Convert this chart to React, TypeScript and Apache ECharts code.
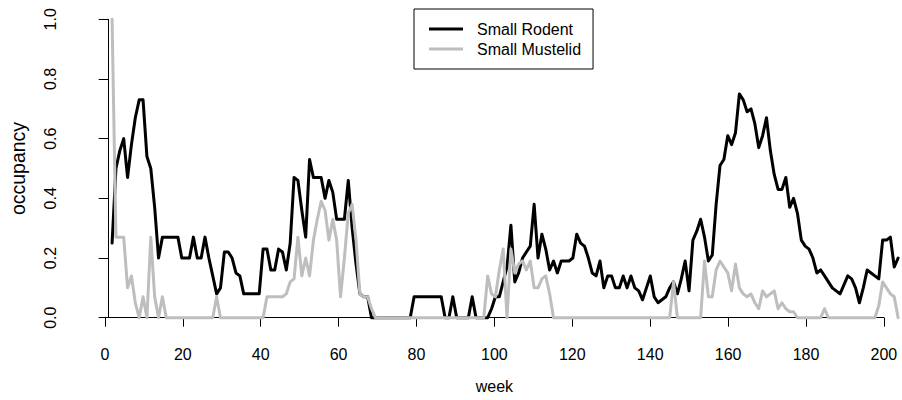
import React, { useEffect, useRef } from "react";
import * as echarts from "echarts";

// Survey week index (1..204)
const weeks: number[] = Array.from({ length: 204 }, (_, i) => i + 1);

// Weekly occupancy of small rodents
const rodent: number[] = [
  0.25, 0.50, 0.56, 0.60, 0.47, 0.58, 0.67, 0.73, 0.73, 0.54,
  0.50, 0.37, 0.20, 0.27, 0.27, 0.27, 0.27, 0.27, 0.20, 0.20,
  0.20, 0.27, 0.20, 0.20, 0.27, 0.20, 0.14, 0.08, 0.10, 0.22,
  0.22, 0.20, 0.15, 0.14, 0.08, 0.08, 0.08, 0.08, 0.08, 0.23,
  0.23, 0.16, 0.16, 0.23, 0.22, 0.16, 0.25, 0.47, 0.46, 0.36,
  0.27, 0.53, 0.47, 0.47, 0.47, 0.40, 0.46, 0.42, 0.33, 0.33,
  0.33, 0.46, 0.30, 0.18, 0.08, 0.07, 0.07, 0.00, 0.00, 0.00,
  0.00, 0.00, 0.00, 0.00, 0.00, 0.00, 0.00, 0.00, 0.07, 0.07,
  0.07, 0.07, 0.07, 0.07, 0.07, 0.07, 0.00, 0.00, 0.07, 0.00,
  0.00, 0.00, 0.00, 0.07, 0.00, 0.00, 0.00, 0.00, 0.03, 0.07,
  0.07, 0.12, 0.17, 0.31, 0.12, 0.15, 0.20, 0.22, 0.24, 0.38,
  0.20, 0.28, 0.23, 0.16, 0.19, 0.15, 0.19, 0.19, 0.19, 0.20,
  0.28, 0.25, 0.24, 0.20, 0.15, 0.14, 0.19, 0.10, 0.14, 0.14,
  0.10, 0.10, 0.14, 0.10, 0.14, 0.10, 0.09, 0.06, 0.10, 0.14,
  0.07, 0.05, 0.06, 0.07, 0.10, 0.12, 0.08, 0.13, 0.19, 0.09,
  0.26, 0.29, 0.33, 0.27, 0.19, 0.21, 0.38, 0.51, 0.53, 0.61,
  0.58, 0.62, 0.75, 0.73, 0.69, 0.70, 0.65, 0.57, 0.61, 0.67,
  0.56, 0.48, 0.43, 0.43, 0.47, 0.37, 0.40, 0.35, 0.26, 0.24,
  0.23, 0.20, 0.15, 0.16, 0.14, 0.12, 0.10, 0.09, 0.08, 0.11,
  0.14, 0.13, 0.10, 0.05, 0.10, 0.16, 0.15, 0.14, 0.13, 0.26,
  0.26, 0.27, 0.17, 0.20,
];

// Weekly occupancy of small mustelids
const mustelid: number[] = [
  1.00, 0.27, 0.27, 0.27, 0.10, 0.14, 0.05, 0.00, 0.07, 0.00,
  0.27, 0.07, 0.00, 0.07, 0.00, 0.00, 0.00, 0.00, 0.00, 0.00,
  0.00, 0.00, 0.00, 0.00, 0.00, 0.00, 0.00, 0.07, 0.00, 0.00,
  0.00, 0.00, 0.00, 0.00, 0.00, 0.00, 0.00, 0.00, 0.00, 0.00,
  0.07, 0.07, 0.07, 0.07, 0.07, 0.08, 0.12, 0.13, 0.27, 0.14,
  0.20, 0.14, 0.26, 0.33, 0.39, 0.36, 0.26, 0.33, 0.26, 0.07,
  0.20, 0.35, 0.38, 0.26, 0.08, 0.07, 0.07, 0.03, 0.00, 0.00,
  0.00, 0.00, 0.00, 0.00, 0.00, 0.00, 0.00, 0.00, 0.00, 0.00,
  0.00, 0.00, 0.00, 0.00, 0.00, 0.00, 0.00, 0.00, 0.00, 0.00,
  0.00, 0.00, 0.00, 0.00, 0.00, 0.00, 0.00, 0.14, 0.08, 0.07,
  0.16, 0.23, 0.00, 0.23, 0.15, 0.18, 0.19, 0.16, 0.19, 0.10,
  0.10, 0.13, 0.14, 0.08, 0.00, 0.00, 0.00, 0.00, 0.00, 0.00,
  0.00, 0.00, 0.00, 0.00, 0.00, 0.00, 0.00, 0.00, 0.00, 0.00,
  0.00, 0.00, 0.00, 0.00, 0.00, 0.00, 0.00, 0.00, 0.00, 0.00,
  0.00, 0.00, 0.00, 0.00, 0.00, 0.12, 0.00, 0.00, 0.00, 0.00,
  0.00, 0.00, 0.00, 0.19, 0.07, 0.07, 0.16, 0.19, 0.17, 0.15,
  0.09, 0.18, 0.10, 0.08, 0.07, 0.08, 0.05, 0.03, 0.09, 0.07,
  0.08, 0.09, 0.03, 0.05, 0.03, 0.02, 0.02, 0.00, 0.00, 0.00,
  0.00, 0.00, 0.00, 0.00, 0.03, 0.00, 0.00, 0.00, 0.00, 0.00,
  0.00, 0.00, 0.00, 0.00, 0.00, 0.00, 0.00, 0.00, 0.04, 0.12,
  0.10, 0.08, 0.07, 0.00,
];

const seriesNames = ["Small Rodent", "Small Mustelid"];
const seriesColors = ["#000000", "#bebebe"];

const FONT = "'Liberation Sans', Arial, Helvetica, sans-serif";

export default function App() {
  const ref = useRef<HTMLDivElement>(null);

  useEffect(() => {
    if (!ref.current) return;
    const chart = echarts.init(ref.current, undefined, { renderer: "svg" });

    const toPairs = (vals: number[]) => weeks.map((w, i) => [w, vals[i]]);

    chart.setOption({
      animation: false,
      backgroundColor: "#ffffff",
      textStyle: { fontFamily: FONT },
      grid: [
        // plotting area: weeks 0..205, occupancy 0..1
        { left: 104.9, top: 19.3, width: 798.5, height: 298.4 },
        // axis frame for the week ticks 0..200
        { left: 104.9, top: 19.3, width: 779, height: 298.4 },
      ],
      xAxis: [
        { gridIndex: 0, type: "value", min: 0, max: 205, show: false },
        {
          gridIndex: 1,
          type: "value",
          min: 0,
          max: 200,
          interval: 20,
          position: "bottom",
          offset: 10.6,
          name: "week",
          nameLocation: "middle",
          nameGap: 50,
          nameTextStyle: { fontSize: 16, color: "#000", fontFamily: FONT },
          axisLine: { show: true, lineStyle: { color: "#000", width: 1 } },
          axisTick: { show: true, length: 9, lineStyle: { color: "#000", width: 1 } },
          axisLabel: { fontSize: 16, color: "#000", margin: 18, fontFamily: FONT, showMinLabel: true, showMaxLabel: true },
          splitLine: { show: false },
        },
      ],
      yAxis: [
        {
          gridIndex: 0,
          type: "value",
          min: 0,
          max: 1,
          interval: 0.2,
          offset: 28.2,
          name: "occupancy",
          nameLocation: "middle",
          nameGap: 52,
          nameTextStyle: { fontSize: 19.5, color: "#000", fontFamily: FONT },
          axisLine: { show: true, lineStyle: { color: "#000", width: 1 } },
          axisTick: { show: true, length: 9.5, lineStyle: { color: "#000", width: 1 } },
          axisLabel: {
            rotate: 90,
            fontSize: 16,
            color: "#000",
            fontFamily: FONT,
            align: "center",
            verticalAlign: "bottom",
            margin: 22,
            showMinLabel: true,
            showMaxLabel: true,
            formatter: (v: number) => v.toFixed(1),
          },
          splitLine: { show: false },
        },
        { gridIndex: 1, type: "value", min: 0, max: 1, show: false },
      ],
      legend: {
        orient: "vertical",
        left: 414,
        top: 9,
        padding: [12, 12, 12, 15],
        borderColor: "#000",
        borderWidth: 1,
        itemWidth: 34,
        itemHeight: 3,
        itemGap: 4,
        icon: "rect",
        selectedMode: false,
        data: seriesNames,
        textStyle: {
          fontSize: 16,
          color: "#000",
          fontFamily: FONT,
          lineHeight: 16,
          padding: [0, 0, 0, 9],
        },
      },
      series: [rodent, mustelid].map((vals, i) => ({
        name: seriesNames[i],
        type: "line",
        xAxisIndex: 0,
        yAxisIndex: 0,
        data: toPairs(vals),
        showSymbol: false,
        symbol: "none",
        clip: false,
        color: seriesColors[i],
        itemStyle: { color: seriesColors[i] },
        lineStyle: { color: seriesColors[i], width: 3, cap: "round", join: "round" },
        emphasis: { disabled: true },
        z: 2 + i,
      })),
    });

    return () => chart.dispose();
  }, []);

  return (
    <div
      ref={ref}
      style={{ position: "fixed", left: 0, top: 0, width: 902, height: 400 }}
    />
  );
}
